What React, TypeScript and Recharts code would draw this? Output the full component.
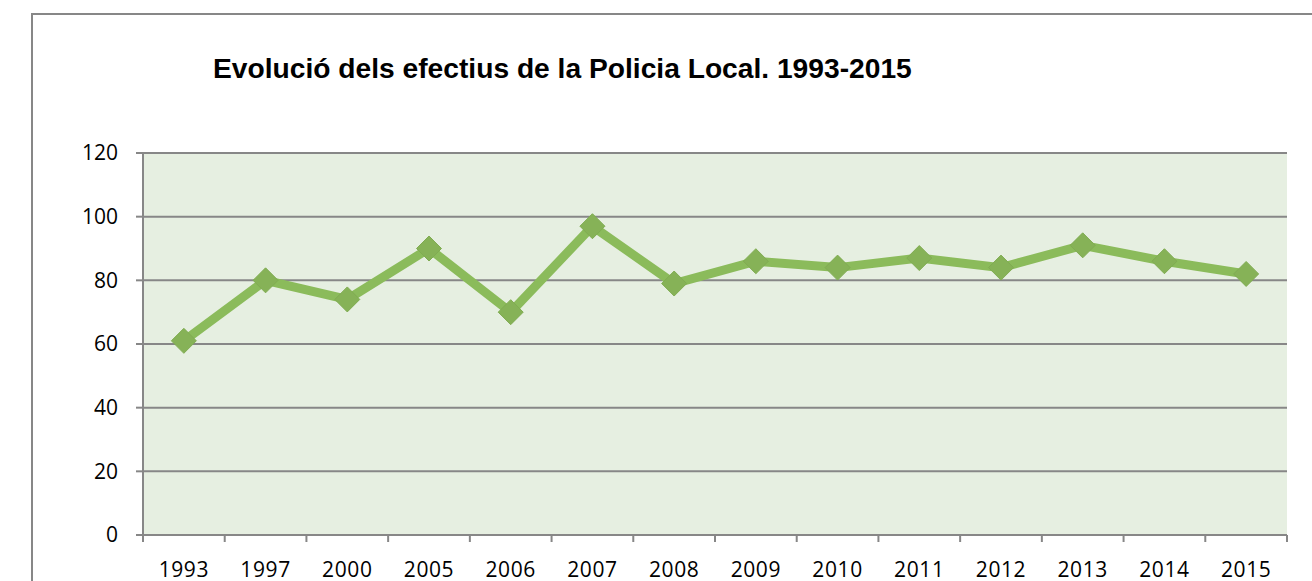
import { LineChart, Line, XAxis, YAxis, CartesianGrid } from 'recharts';

const years = ['1993', '1997', '2000', '2005', '2006', '2007', '2008', '2009', '2010', '2011', '2012', '2013', '2014', '2015'];
const efectius = [61, 80, 74, 90, 70, 97, 79, 86, 84, 87, 84, 91, 86, 82];
const yTicks = [0, 20, 40, 60, 80, 100, 120];

const data = years.map((year, i) => ({ year, value: efectius[i] }));

const W = 1312;
const H = 581;
const PLOT_LEFT = 143;
const PLOT_RIGHT = 1287;
const PLOT_TOP = 153;
const PLOT_BOTTOM = 535;
const Y_AXIS_W = 80;
const BAND = (PLOT_RIGHT - PLOT_LEFT) / years.length;

const AXIS_GREY = '#878787';
const TICK_FONT = "'Open Sans', sans-serif";

// category ticks sit between bands, like the spreadsheet original
const XTick = (props: any) => {
  const { x, payload, index } = props;
  const left = x - BAND / 2;
  const y0 = PLOT_BOTTOM;
  return (
    <g>
      <line x1={left} y1={y0} x2={left} y2={y0 + 7} stroke={AXIS_GREY} strokeWidth={2} />
      {index === years.length - 1 && (
        <line x1={x + BAND / 2} y1={y0} x2={x + BAND / 2} y2={y0 + 7} stroke={AXIS_GREY} strokeWidth={2} />
      )}
      <text x={x} y={y0 + 42} textAnchor="middle" fontFamily={TICK_FONT} fontSize={21} letterSpacing={0.6} fill="#000">
        {payload.value}
      </text>
    </g>
  );
};

const Diamond = (props: any) => {
  const { cx, cy } = props;
  if (cx == null || cy == null) return null;
  const r = 12.5;
  return (
    <polygon
      points={`${cx},${cy - r} ${cx + r},${cy} ${cx},${cy + r} ${cx - r},${cy}`}
      fill="#86B257"
      stroke="#80AC52"
      strokeWidth={1}
    />
  );
};

export default function App() {
  return (
    <div style={{ position: 'absolute', left: 0, top: 0, width: W, height: H, overflow: 'hidden', background: '#fff' }}>
      <div
        style={{
          position: 'absolute',
          left: 31,
          top: 13,
          width: 1400,
          height: 700,
          border: `2px solid ${AXIS_GREY}`,
          boxSizing: 'border-box',
        }}
      />
      <div
        style={{
          position: 'absolute',
          left: 213,
          top: 51,
          fontFamily: "'Liberation Sans', Arial, sans-serif",
          fontWeight: 'bold',
          fontSize: 28.2,
          lineHeight: '34px',
          color: '#000',
          whiteSpace: 'nowrap',
        }}
      >
        Evolució dels efectius de la Policia Local. 1993-2015
      </div>
      <LineChart
        width={W}
        height={H}
        data={data}
        margin={{ top: PLOT_TOP, right: W - PLOT_RIGHT, bottom: 0, left: PLOT_LEFT - Y_AXIS_W }}
        style={{ position: 'absolute', left: 0, top: 0 }}
      >
        <CartesianGrid vertical={false} fill="#E6EFE1" stroke={AXIS_GREY} strokeWidth={2} fillOpacity={1} />
        <XAxis
          dataKey="year"
          scale="band"
          height={H - PLOT_BOTTOM}
          axisLine={{ stroke: AXIS_GREY, strokeWidth: 2 }}
          tickLine={false}
          tick={<XTick />}
          interval={0}
        />
        <YAxis
          domain={[0, 120]}
          ticks={yTicks}
          width={Y_AXIS_W}
          axisLine={{ stroke: AXIS_GREY, strokeWidth: 2 }}
          tickLine={{ stroke: AXIS_GREY, strokeWidth: 2 }}
          tickSize={7}
          tickMargin={18}
          tick={{ fontFamily: TICK_FONT, fontSize: 21, fill: '#000' }}
        />
        <Line
          type="linear"
          dataKey="value"
          stroke="#8BBB5B"
          strokeWidth={9}
          dot={<Diamond />}
          activeDot={false}
          isAnimationActive={false}
        />
      </LineChart>
    </div>
  );
}
